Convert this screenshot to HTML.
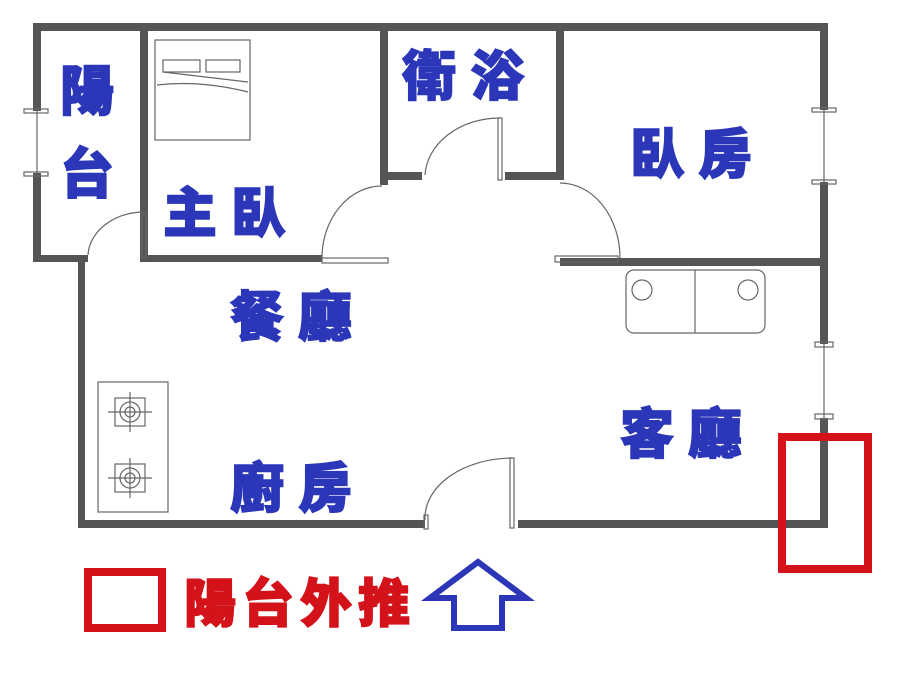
<!DOCTYPE html>
<html><head><meta charset="utf-8"><style>
body{margin:0;background:#fff;}
svg{display:block}
.l{font-family:"Liberation Sans","Noto Sans CJK TC",sans-serif;font-weight:900;fill:#2b36b8;stroke:#2b36b8;stroke-width:1.5;letter-spacing:14px}
</style></head><body>
<svg width="900" height="696" viewBox="0 0 900 696" xmlns="http://www.w3.org/2000/svg">
<g fill="#555">
<rect x="33" y="23" width="795" height="8"/>
<rect x="33" y="23" width="8" height="88"/>
<rect x="33" y="173" width="8" height="89"/>
<rect x="33" y="255" width="55" height="7"/>
<rect x="78" y="255" width="7" height="273"/>
<rect x="140" y="23" width="8" height="239"/>
<rect x="140" y="255" width="182" height="7"/>
<rect x="380" y="23" width="8" height="162"/>
<rect x="380" y="172" width="42" height="8"/>
<rect x="505" y="172" width="59" height="8"/>
<rect x="556" y="23" width="8" height="157"/>
<rect x="560" y="258" width="268" height="8"/>
<rect x="820" y="23" width="8" height="87"/>
<rect x="820" y="182" width="8" height="84"/>
<rect x="820" y="266" width="8" height="78"/>
<rect x="820" y="418" width="8" height="110"/>
<rect x="78" y="520" width="347" height="8"/>
<rect x="518" y="520" width="310" height="8"/>
</g>
<g fill="none" stroke="#666" stroke-width="1.2">
<line x1="37" y1="111" x2="37" y2="173"/>
<rect x="24" y="109" width="24" height="4"/><rect x="24" y="172" width="24" height="4"/>
<line x1="824" y1="110" x2="824" y2="182"/>
<rect x="812" y="108" width="24" height="4"/><rect x="812" y="180" width="24" height="4"/>
<line x1="824" y1="344" x2="824" y2="418"/>
<rect x="815" y="342" width="18" height="5"/><rect x="815" y="414" width="18" height="5"/>
<path d="M88 255 A57 45 0 0 1 142 212"/><rect x="142" y="212" width="4" height="46"/>
<path d="M322 258 A60 72 0 0 1 382 186"/><rect x="322" y="258" width="66" height="5"/>
<path d="M425 175 A75 60 0 0 1 500 118"/><rect x="498" y="118" width="4" height="62"/>
<path d="M560 183 A60 75 0 0 1 620 258"/><rect x="555" y="256" width="63" height="6"/>
<path d="M425 520 A88 60 0 0 1 512 458"/><rect x="510" y="458" width="4" height="70"/><rect x="424" y="515" width="4" height="14"/>
<rect x="155" y="40" width="95" height="100"/>
<rect x="163" y="60" width="37" height="12"/><rect x="206" y="60" width="34" height="12"/>
<path d="M157 85 Q200 80 248 92"/><path d="M163 72 L248 82"/>
<rect x="626" y="270" width="139" height="63" rx="8"/>
<line x1="695" y1="270" x2="695" y2="333"/>
<circle cx="642" cy="290" r="10"/><circle cx="748" cy="290" r="10"/>
<rect x="98" y="382" width="70" height="130"/>
<rect x="115" y="398" width="30" height="28"/><circle cx="130" cy="412" r="10"/><circle cx="130" cy="412" r="5"/>
<line x1="130" y1="392" x2="130" y2="432"/><line x1="108" y1="412" x2="152" y2="412"/>
<rect x="115" y="464" width="30" height="28"/><circle cx="130" cy="478" r="10"/><circle cx="130" cy="478" r="5"/>
<line x1="130" y1="458" x2="130" y2="498"/><line x1="108" y1="478" x2="152" y2="478"/>
</g>
<g class="l" font-size="54">
<text x="60" y="110">陽</text>
<text x="60" y="193">台</text>
<text x="163" y="232">主臥</text>
<text x="402" y="95">衛浴</text>
<text x="630" y="173">臥房</text>
<text x="230" y="336">餐廳</text>
<text x="230" y="507">廚房</text>
<text x="620" y="453">客廳</text>
</g>
<rect x="782" y="437" width="86" height="132" fill="none" stroke="#d4121a" stroke-width="8"/>
<rect x="88" y="572" width="74" height="56" fill="none" stroke="#d4121a" stroke-width="8"/>
<text x="184" y="622" font-family="'Liberation Sans','Noto Sans CJK TC',sans-serif" font-weight="900" font-size="52" letter-spacing="6" fill="#d4121a" stroke="#d4121a" stroke-width="1.5">陽台外推</text>
<path d="M478 562 L526 598 L502 598 L502 628 L454 628 L454 598 L430 598 Z" fill="none" stroke="#2b36b8" stroke-width="6" stroke-linejoin="miter"/>
</svg>
</body></html>
